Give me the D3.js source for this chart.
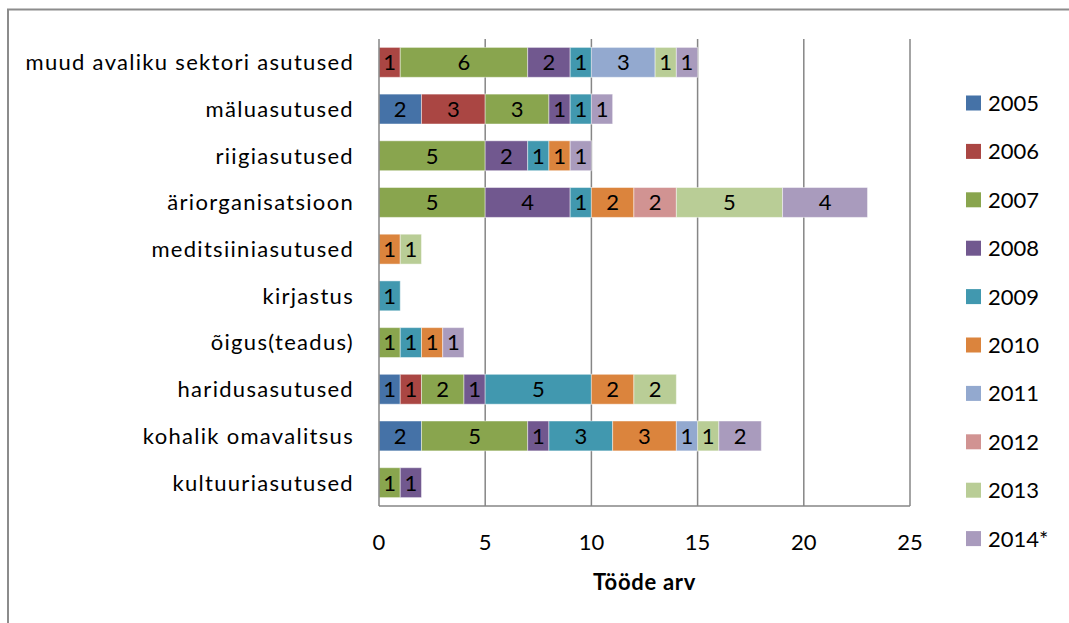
<!DOCTYPE html>
<html>
<head>
<meta charset="utf-8">
<script src="https://cdn.jsdelivr.net/npm/d3@7"></script>
<style>
  body { margin: 0; background: #fff; }
  text { font-family: Lato, "Open Sans", sans-serif; fill: #000; }
</style>
</head>
<body>
<svg id="chart" width="1069" height="623"></svg>
<script>
// categories, top to bottom
var categories = ["muud avaliku sektori asutused", "mäluasutused", "riigiasutused",
    "äriorganisatsioon", "meditsiiniasutused", "kirjastus", "õigus(teadus)",
    "haridusasutused", "kohalik omavalitsus", "kultuuriasutused"];

var years = ["2005", "2006", "2007", "2008", "2009", "2010", "2011", "2012", "2013", "2014*"];

// one array per year, values in category order
var y2005 = [0, 2, 0, 0, 0, 0, 0, 1, 2, 0];
var y2006 = [1, 3, 0, 0, 0, 0, 0, 1, 0, 0];
var y2007 = [6, 3, 5, 5, 0, 0, 1, 2, 5, 1];
var y2008 = [2, 1, 2, 4, 0, 0, 0, 1, 1, 1];
var y2009 = [1, 1, 1, 1, 0, 1, 1, 5, 3, 0];
var y2010 = [0, 0, 1, 2, 1, 0, 1, 2, 3, 0];
var y2011 = [3, 0, 0, 0, 0, 0, 0, 0, 1, 0];
var y2012 = [0, 0, 0, 2, 0, 0, 0, 0, 0, 0];
var y2013 = [1, 0, 0, 5, 1, 0, 0, 2, 1, 0];
var y2014 = [1, 1, 1, 4, 0, 0, 1, 0, 2, 0];

var xTicks = [0, 5, 10, 15, 20, 25];

var colors = ["#4572A7", "#AA4643", "#89A54E", "#71588F", "#4198AF",
    "#DB843D", "#93A9CF", "#D19392", "#B9CD96", "#A99BBD"];

var series = [y2005, y2006, y2007, y2008, y2009, y2010, y2011, y2012, y2013, y2014];

// build table for d3.stack
var table = categories.map(function (c, i) {
    var row = {cat: c};
    years.forEach(function (y, j) { row[y] = series[j][i]; });
    return row;
});

var svg = d3.select("#chart");
var fs = "22px";

// outer frame (only top and left visible)
svg.append("line").attr("x1", 7).attr("x2", 1069).attr("y1", 9.5).attr("y2", 9.5)
    .attr("stroke", "#8c8c8c").attr("stroke-width", 2);
svg.append("line").attr("x1", 8).attr("x2", 8).attr("y1", 9).attr("y2", 623)
    .attr("stroke", "#8c8c8c").attr("stroke-width", 2);

var plotLeft = 379, plotRight = 910, plotTop = 39, plotBottom = 506;

var x = d3.scaleLinear().domain([0, 25]).range([plotLeft, plotRight]);
var y = d3.scaleBand().domain(categories).range([plotTop, plotBottom]).paddingInner(0.36).paddingOuter(0.18);

// gridlines
svg.append("g").selectAll("line").data(xTicks.slice(1)).enter().append("line")
    .attr("x1", function (d) { return x(d); })
    .attr("x2", function (d) { return x(d); })
    .attr("y1", plotTop).attr("y2", plotBottom)
    .attr("stroke", "#868686").attr("stroke-width", 1.5);

var stack = d3.stack().keys(years)(table);

var layers = svg.append("g").selectAll("g").data(stack).enter().append("g")
    .attr("fill", function (d, i) { return colors[i]; });

function nonZero(d) { return d.filter(function (p) { return p[1] - p[0] > 0; }); }

layers.selectAll("rect").data(nonZero)
    .enter().append("rect")
    .attr("x", function (d) { return x(d[0]); })
    .attr("width", function (d) { return x(d[1]) - x(d[0]); })
    .attr("y", function (d) { return y(d.data.cat); })
    .attr("height", y.bandwidth())
    .attr("stroke", "#ffffff").attr("stroke-opacity", 0.45).attr("stroke-width", 1);

layers.selectAll("text").data(nonZero)
    .enter().append("text")
    .attr("x", function (d) { return (x(d[0]) + x(d[1])) / 2; })
    .attr("y", function (d) { return y(d.data.cat) + y.bandwidth() / 2; })
    .attr("dy", "0.36em")
    .attr("text-anchor", "middle")
    .attr("fill", "#000")
    .style("font-size", fs)
    .text(function (d) { return d[1] - d[0]; });

// axis lines
svg.append("line").attr("x1", plotLeft).attr("x2", plotLeft).attr("y1", plotTop).attr("y2", plotBottom)
    .attr("stroke", "#868686").attr("stroke-width", 1.5);
svg.append("line").attr("x1", plotLeft).attr("x2", plotRight).attr("y1", plotBottom).attr("y2", plotBottom)
    .attr("stroke", "#868686").attr("stroke-width", 1.5);

// category labels (Calibri-like width via a bit of spacing)
svg.append("g").selectAll("text").data(categories).enter().append("text")
    .attr("x", 354)
    .attr("y", function (d) { return y(d) + y.bandwidth() / 2; })
    .attr("dy", "0.36em")
    .attr("text-anchor", "end")
    .style("font-size", fs)
    .style("letter-spacing", "1.3px")
    .text(function (d) { return d; });

// x tick labels
svg.append("g").selectAll("text").data(xTicks).enter().append("text")
    .attr("x", function (d) { return x(d); })
    .attr("y", 542).attr("dy", "0.36em")
    .attr("text-anchor", "middle")
    .style("font-size", fs)
    .text(function (d) { return d; });

svg.append("text").attr("x", (plotLeft + plotRight) / 2).attr("y", 582).attr("dy", "0.36em")
    .attr("text-anchor", "middle").style("font-size", fs).style("font-weight", "bold")
    .style("letter-spacing", "0.7px")
    .text("Tööde arv");

// legend
var legend = svg.append("g").selectAll("g").data(years).enter().append("g")
    .attr("transform", function (d, i) { return "translate(966," + (103 + i * 48.4) + ")"; });
legend.append("rect").attr("x", 0).attr("y", -7.5).attr("width", 15).attr("height", 15)
    .attr("fill", function (d, i) { return colors[i]; });
legend.append("text").attr("x", 22).attr("y", 0).attr("dy", "0.36em")
    .style("font-size", fs).text(function (d) { return d; });
</script>
</body>
</html>
